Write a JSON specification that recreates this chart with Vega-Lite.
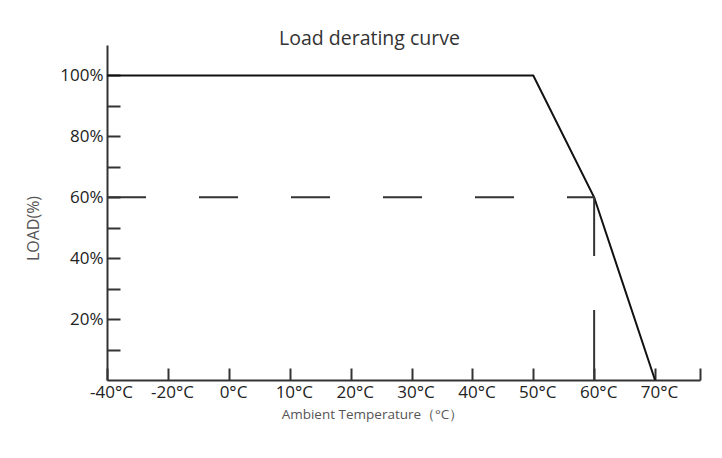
{
  "$schema": "https://vega.github.io/schema/vega-lite/v6.json",
  "width": 593,
  "height": 335,
  "autosize": {"type": "none"},
  "padding": {"left": 107, "top": 45, "right": 22, "bottom": 78},
  "background": "white",
  "title": {
    "text": "Load derating curve",
    "font": "Open Sans",
    "fontSize": 19.5,
    "fontWeight": "normal",
    "color": "#333333",
    "anchor": "middle",
    "baseline": "alphabetic",
    "offset": 0,
    "dx": -34,
    "dy": 19
  },
  "config": {
    "view": {"stroke": null},
    "axis": {"grid": false}
  },
  "resolve": {"axis": {"y": "independent"}},
  "datasets": {
    "curve": [
      {"temp": -40, "load": 100},
      {"temp": 50, "load": 100},
      {"temp": 60, "load": 60},
      {"temp": 70, "load": 0}
    ],
    "hguide": [{"temp": -40, "temp2": 60, "load": 60}],
    "vguide": [{"temp": 60, "load": 0, "load2": 60}]
  },
  "layer": [
    {
      "data": {"name": "curve"},
      "mark": {"type": "line", "color": "#111111", "strokeWidth": 2},
      "encoding": {
        "x": {
          "field": "temp",
          "type": "quantitative",
          "scale": {
            "domain": [-40, -20, 0, 70, 77.4],
            "range": [0, 61, 122, 548, 593],
            "nice": false,
            "zero": false
          },
          "axis": {
            "values": [-40, -20, 0, 10, 20, 30, 40, 50, 60, 70, 77.4],
            "labelExpr": "datum.value > 75 ? '' : datum.value + '°C'",
            "domainColor": "#333333",
            "domainWidth": 2,
            "tickColor": "#333333",
            "tickWidth": 2,
            "tickSize": -12,
            "labelPadding": 16,
            "labelOffset": 4,
            "labelFont": "Open Sans",
            "labelFontSize": 17,
            "labelColor": "#222222",
            "labelFlush": false,
            "labelOverlap": false,
            "title": "Ambient Temperature（°C）",
            "titleFont": "Open Sans",
            "titleFontSize": 13.5,
            "titleFontWeight": "normal",
            "titleColor": "#555555",
            "titleX": 265,
            "titleY": 38,
            "titleAlign": "center",
            "titleBaseline": "alphabetic"
          }
        },
        "y": {
          "field": "load",
          "type": "quantitative",
          "scale": {"domain": [0, 110], "nice": false, "zero": true},
          "axis": {
            "orient": "left",
            "values": [20, 40, 60, 80, 100],
            "labelExpr": "datum.value + '%'",
            "domainColor": "#333333",
            "domainWidth": 2,
            "tickColor": "#333333",
            "tickWidth": 2,
            "tickSize": -13,
            "labelPadding": 17,
            "labelFont": "Open Sans",
            "labelFontSize": 17,
            "labelColor": "#222222",
            "labelOverlap": false,
            "labelFlush": false,
            "title": "LOAD(%)",
            "titleFont": "Open Sans",
            "titleFontSize": 16,
            "titleFontWeight": "normal",
            "titleColor": "#555555",
            "titleAngle": -90,
            "titleX": -74,
            "titleY": 183,
            "titleAlign": "center",
            "titleBaseline": "middle"
          }
        }
      }
    },
    {
      "data": {"name": "hguide"},
      "mark": {"type": "rule", "color": "#333333", "strokeWidth": 2, "strokeDash": [39, 53]},
      "encoding": {
        "x": {"field": "temp", "type": "quantitative"},
        "x2": {"field": "temp2"},
        "y": {
          "field": "load",
          "type": "quantitative",
          "axis": {
            "orient": "left",
            "values": [10, 30, 50, 70, 90],
            "labels": false,
            "domain": false,
            "title": null,
            "tickColor": "#333333",
            "tickWidth": 2,
            "tickSize": -13
          }
        }
      }
    },
    {
      "data": {"name": "vguide"},
      "mark": {"type": "rule", "color": "#333333", "strokeWidth": 2, "strokeDash": [70, 54]},
      "encoding": {
        "x": {"field": "temp", "type": "quantitative"},
        "y": {"field": "load", "type": "quantitative", "axis": null},
        "y2": {"field": "load2"}
      }
    }
  ]
}
